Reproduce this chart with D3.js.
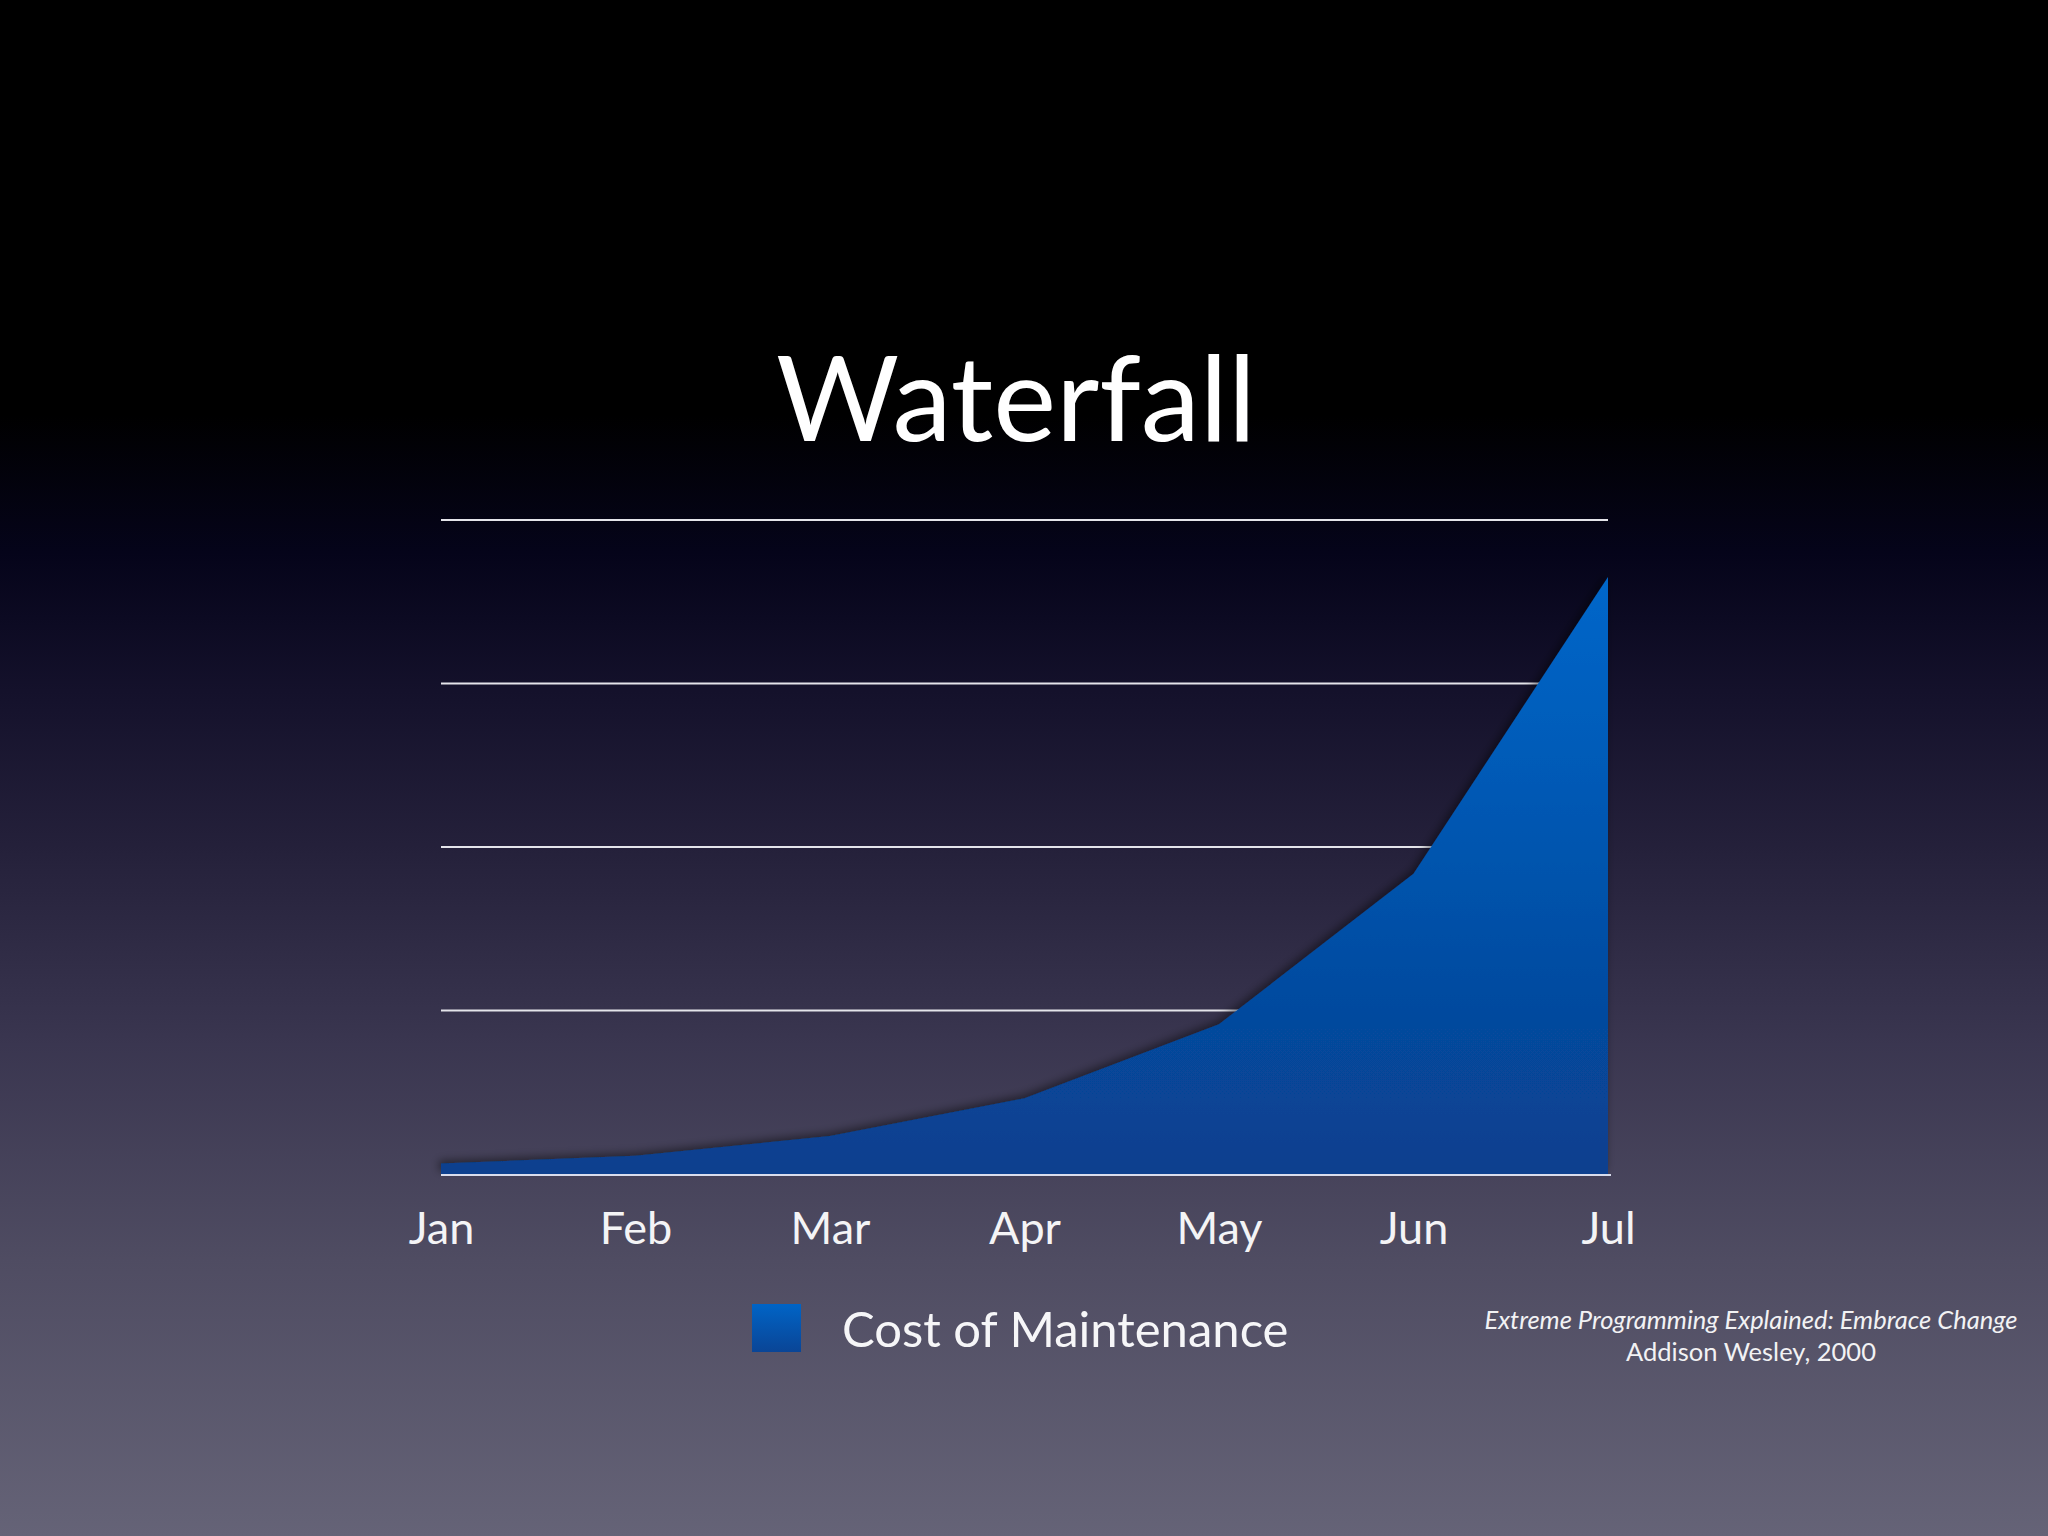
<!DOCTYPE html>
<html>
<head>
<meta charset="utf-8">
<script src="https://cdn.jsdelivr.net/npm/d3@7"></script>
<style>
  html, body { margin: 0; padding: 0; background: #000; }
  svg { display: block; }
  text { font-family: Lato, "Open Sans", sans-serif; fill: #fff; }
</style>
</head>
<body>
<svg id="chart"></svg>
<script>
// Chart data
const months = ['Jan', 'Feb', 'Mar', 'Apr', 'May', 'Jun', 'Jul'];
const maintenanceCost = [1.6, 2.8, 5.8, 11.6, 22.9, 45.9, 91.3];
const gridValues = [0, 25, 50, 75, 100];
const seriesName = 'Cost of Maintenance';
const citation = ['Extreme Programming Explained: Embrace Change', 'Addison Wesley, 2000'];

const width = 2048, height = 1536;
const plot = { left: 441, right: 1608, top: 520, bottom: 1174 };

const svg = d3.select('#chart')
  .attr('width', width)
  .attr('height', height);

const defs = svg.append('defs');

// Background gradient, black at top fading to grey-violet
const bg = defs.append('linearGradient')
  .attr('id', 'bg')
  .attr('x1', 0).attr('y1', 0).attr('x2', 0).attr('y2', 1);
[[0, '#000000'], [0.27, '#000000'], [0.36, '#05041a'], [0.45, '#14112b'],
 [0.55, '#24203a'], [0.68, '#3a3650'], [0.82, '#4f4c62'], [1, '#656377']]
  .forEach(([o, c]) => bg.append('stop').attr('offset', o).attr('stop-color', c));

// Area fill gradient
const areaGrad = defs.append('linearGradient')
  .attr('id', 'areaFill')
  .attr('x1', 0).attr('y1', 0).attr('x2', 0).attr('y2', 1);
areaGrad.append('stop').attr('offset', 0).attr('stop-color', '#0067ca');
areaGrad.append('stop').attr('offset', 1).attr('stop-color', '#083f8e');

const legendGrad = defs.append('linearGradient')
  .attr('id', 'legendFill')
  .attr('x1', 0).attr('y1', 0).attr('x2', 0).attr('y2', 1);
legendGrad.append('stop').attr('offset', 0).attr('stop-color', '#0064c6');
legendGrad.append('stop').attr('offset', 1).attr('stop-color', '#0a4596');

const shadow = defs.append('filter')
  .attr('id', 'shadow')
  .attr('x', '-10%').attr('y', '-10%').attr('width', '120%').attr('height', '120%');
shadow.append('feDropShadow')
  .attr('dx', -2).attr('dy', -3)
  .attr('stdDeviation', 4)
  .attr('flood-color', '#000')
  .attr('flood-opacity', 0.45);

svg.append('rect')
  .attr('width', width)
  .attr('height', height)
  .attr('fill', 'url(#bg)');

// Scales
const xScale = d3.scalePoint()
  .domain(months)
  .range([plot.left, plot.right]);

const yScale = d3.scaleLinear()
  .domain([0, 100])
  .range([plot.bottom, plot.top]);

// Title
svg.append('text')
  .attr('x', 1016)
  .attr('y', 441)
  .attr('text-anchor', 'middle')
  .style('font-size', '119px')
  .text('Waterfall');

// Grid lines
svg.append('g')
  .selectAll('line')
  .data(gridValues.slice(1))
  .enter()
  .append('line')
  .attr('x1', plot.left)
  .attr('x2', plot.right)
  .attr('y1', d => yScale(d))
  .attr('y2', d => yScale(d))
  .style('stroke', '#e4e4ea')
  .style('stroke-width', 2);

// Area
const area = d3.area()
  .x((d, i) => xScale(months[i]))
  .y0(yScale(0))
  .y1(d => yScale(d));

svg.append('path')
  .datum(maintenanceCost)
  .attr('d', area)
  .attr('fill', 'url(#areaFill)')
  .attr('filter', 'url(#shadow)');

// Baseline
svg.append('line')
  .attr('x1', plot.left)
  .attr('x2', plot.right + 3)
  .attr('y1', yScale(0) + 1)
  .attr('y2', yScale(0) + 1)
  .style('stroke', '#d8dcec')
  .style('stroke-width', 2);

// X axis labels
const xAxis = d3.axisBottom(xScale).tickSize(0).tickPadding(0);
const xAxisG = svg.append('g')
  .attr('transform', `translate(0,${plot.bottom})`)
  .call(xAxis);
xAxisG.select('.domain').remove();
xAxisG.selectAll('text')
  .attr('y', 70)
  .attr('dy', 0)
  .style('font-family', 'Lato, "Open Sans", sans-serif')
  .style('font-size', '45px')
  .style('fill', '#f4f4f6');

// Legend
svg.append('rect')
  .attr('x', 752)
  .attr('y', 1304)
  .attr('width', 49)
  .attr('height', 48)
  .attr('fill', 'url(#legendFill)');

svg.append('text')
  .attr('x', 842)
  .attr('y', 1347)
  .style('font-size', '49px')
  .style('fill', '#f6f6f8')
  .text(seriesName);

// Citation
svg.append('text')
  .attr('x', 1751)
  .attr('y', 1329)
  .attr('text-anchor', 'middle')
  .style('font-size', '25.5px')
  .style('font-style', 'italic')
  .style('fill', '#f2f2f4')
  .text(citation[0]);

svg.append('text')
  .attr('x', 1751)
  .attr('y', 1361)
  .attr('text-anchor', 'middle')
  .style('font-size', '25.5px')
  .style('fill', '#f2f2f4')
  .text(citation[1]);
</script>
</body>
</html>
